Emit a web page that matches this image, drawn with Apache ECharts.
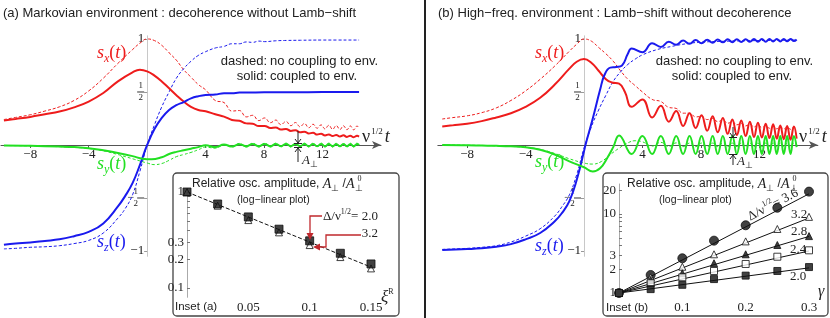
<!DOCTYPE html>
<html><head><meta charset="utf-8">
<script src="https://cdn.jsdelivr.net/npm/echarts@6/dist/echarts.min.js"></script>
<style>html,body{margin:0;padding:0;background:#fff}#c{width:830px;height:318px}</style>
</head><body><div id="c"></div>
<script>
// ---------- DATA ----------
const xTickValues = [-8, -4, 4, 8, 12];
const yTickValues = [-1, -0.5, 0.5, 1];

// Panel (a): Markovian environment  [t, s]
const a_sx_solid = [[-9.8,0.23],[-9,0.245],[-8,0.265],[-7,0.29],[-6,0.315],[-5,0.355],[-4,0.41],[-3,0.49],[-2,0.6],[-1,0.685],[-0.5,0.71],[0,0.695],[0.5,0.655],[1,0.6],[1.5,0.535],[2,0.47],[2.5,0.41],[3,0.36],[3.5,0.33],[4.0,0.318],[4.66,0.29],[5.26,0.268],[5.8,0.236],[6.31,0.228],[6.78,0.204],[7.22,0.2],[7.64,0.178],[8.04,0.18],[8.43,0.161],[8.8,0.165],[9.15,0.146],[9.5,0.152],[9.83,0.133],[10.15,0.139],[10.46,0.12],[10.76,0.126],[11.06,0.108],[11.35,0.116],[11.63,0.098],[11.9,0.106],[12.17,0.09],[12.43,0.1],[12.69,0.084],[12.94,0.095],[13.19,0.08],[13.43,0.091],[13.67,0.076],[13.9,0.088],[14.13,0.074],[14.36,0.086],[14.5,0.08]];
const a_sx_dashed = [[-9.8,0.24],[-9,0.26],[-8,0.285],[-7,0.32],[-6,0.36],[-5,0.42],[-4,0.51],[-3,0.63],[-2,0.77],[-1,0.9],[-0.5,0.96],[0,1.0],[0.5,0.985],[1,0.94],[1.5,0.87],[2,0.8],[2.5,0.71],[3,0.64],[3.5,0.57],[4.0,0.52],[4.66,0.42],[5.26,0.4],[5.8,0.32],[6.31,0.325],[6.78,0.265],[7.22,0.28],[7.64,0.23],[8.04,0.255],[8.43,0.21],[8.8,0.235],[9.15,0.192],[9.5,0.222],[9.83,0.182],[10.15,0.212],[10.46,0.172],[10.76,0.203],[11.06,0.163],[11.35,0.196],[11.63,0.158],[11.9,0.19],[12.17,0.152],[12.43,0.186],[12.69,0.148],[12.94,0.183],[13.19,0.146],[13.43,0.181],[13.67,0.144],[13.9,0.18],[14.13,0.143],[14.36,0.179],[14.5,0.16]];
const a_sz_solid = [[-9.8,-0.94],[-9,-0.93],[-8,-0.92],[-7,-0.905],[-6,-0.89],[-5,-0.86],[-4,-0.82],[-3,-0.74],[-2,-0.58],[-1.5,-0.48],[-1,-0.36],[-0.5,-0.19],[0,0],[0.5,0.15],[1,0.255],[1.5,0.33],[2,0.375],[2.5,0.405],[3,0.44],[3.5,0.46],[4,0.472],[4.66,0.476],[5.26,0.488],[5.8,0.488],[6.31,0.494],[7,0.495],[8,0.497],[10,0.498],[12,0.499],[14.5,0.5]];
const a_sz_dashed = [[-9.8,-0.98],[-9,-0.975],[-8,-0.965],[-7,-0.96],[-6,-0.95],[-5,-0.93],[-4,-0.9],[-3,-0.83],[-2,-0.69],[-1.5,-0.6],[-1,-0.47],[-0.5,-0.25],[0,0],[0.5,0.19],[1,0.36],[1.5,0.5],[2,0.63],[2.5,0.72],[3,0.79],[3.5,0.845],[4,0.88],[4.66,0.915],[5.26,0.93],[5.8,0.955],[6.31,0.955],[6.78,0.972],[7.22,0.968],[7.64,0.98],[8.04,0.975],[8.8,0.983],[9.5,0.986],[10.5,0.988],[12,0.99],[14.5,0.99]];
const a_sy_solid = [[-9.8,-0.005],[-8,-0.008],[-6,-0.015],[-5,-0.02],[-4,-0.03],[-3,-0.05],[-2,-0.075],[-1,-0.105],[-0.3,-0.13],[0.3,-0.135],[1,-0.115],[1.5,-0.085],[2,-0.065],[2.5,-0.05],[3,-0.035],[3.5,-0.02],[4.0,-0.003],[4.66,-0.02],[5.26,0.005],[5.8,-0.015],[6.31,0.008],[6.78,-0.012],[7.22,0.01],[7.64,-0.012],[8.04,0.01],[8.43,-0.012],[8.8,0.01],[9.15,-0.012],[9.5,0.01],[9.83,-0.012],[10.15,0.01],[10.46,-0.012],[10.76,0.01],[11.06,-0.012],[11.35,0.01],[11.63,-0.012],[11.9,0.01],[12.17,-0.012],[12.43,0.01],[12.69,-0.012],[12.94,0.01],[13.19,-0.012],[13.43,0.01],[13.67,-0.012],[13.9,0.01],[14.13,-0.012],[14.36,0.01],[14.5,0]];
const a_sy_dashed = [[-9.8,-0.005],[-8,-0.008],[-6,-0.016],[-5,-0.022],[-4,-0.033],[-3,-0.055],[-2,-0.09],[-1,-0.13],[0,-0.17],[0.5,-0.185],[1,-0.175],[1.5,-0.145],[2,-0.11],[2.5,-0.09],[3,-0.07],[3.5,-0.045],[4.0,-0.02],[4.66,-0.03],[5.26,0.0],[5.8,-0.02],[6.31,0.015],[6.78,-0.02],[7.22,0.018],[7.64,-0.02],[8.04,0.018],[8.43,-0.02],[8.8,0.018],[9.15,-0.02],[9.5,0.018],[9.83,-0.02],[10.15,0.018],[10.46,-0.02],[10.76,0.018],[11.06,-0.02],[11.35,0.018],[11.63,-0.02],[11.9,0.018],[12.17,-0.02],[12.43,0.018],[12.69,-0.02],[12.94,0.018],[13.19,-0.02],[13.43,0.018],[13.67,-0.02],[13.9,0.018],[14.13,-0.02],[14.36,0.018],[14.5,0]];

// Panel (b): high-frequency environment  [t, s]
const b_sx_solid = [[-9.7,0.175],[-9,0.185],[-8,0.2],[-7,0.225],[-6,0.26],[-5,0.3],[-4,0.36],[-3,0.445],[-2,0.57],[-1,0.72],[-0.5,0.785],[0,0.81],[0.5,0.775],[1,0.7],[1.5,0.62],[1.9,0.59],[2.4,0.578],[2.8,0.5],[3.26,0.36],[4.0,0.43],[4.66,0.26],[5.26,0.37],[5.8,0.22],[6.31,0.32],[6.78,0.18],[7.22,0.3],[7.64,0.16],[8.04,0.28],[8.43,0.135],[8.8,0.27],[9.15,0.12],[9.5,0.255],[9.83,0.105],[10.15,0.24],[10.46,0.095],[10.76,0.23],[11.06,0.085],[11.35,0.22],[11.63,0.075],[11.9,0.21],[12.17,0.07],[12.43,0.2],[12.69,0.065],[12.94,0.195],[13.19,0.06],[13.43,0.185],[13.67,0.055],[13.9,0.18],[14.13,0.05],[14.36,0.175],[14.55,0.06]];
const b_sx_dashed = [[-9.7,0.245],[-9,0.258],[-8,0.275],[-7,0.305],[-6,0.35],[-5,0.42],[-4,0.51],[-3,0.62],[-2,0.745],[-1,0.885],[-0.5,0.95],[0,1.0],[0.5,0.98],[1,0.92],[1.5,0.86],[2,0.79],[2.5,0.7],[3,0.62],[3.5,0.56],[4.0,0.5],[4.66,0.43],[5.26,0.41],[5.8,0.355],[6.31,0.345],[6.78,0.3],[7.22,0.3],[7.64,0.265],[8.04,0.27],[8.43,0.24],[8.8,0.25],[9.15,0.22],[9.5,0.235],[9.83,0.205],[10.15,0.22],[10.46,0.19],[10.76,0.205],[11.06,0.18],[11.35,0.195],[11.63,0.17],[11.9,0.188],[12.17,0.163],[12.43,0.182],[12.69,0.158],[12.94,0.177],[13.19,0.153],[13.43,0.173],[13.67,0.15],[13.9,0.17],[14.13,0.148],[14.36,0.168],[14.55,0.155]];
const b_sz_solid = [[-9.7,-0.99],[-8,-0.982],[-7,-0.975],[-6,-0.96],[-5,-0.935],[-4,-0.89],[-3,-0.83],[-2,-0.72],[-1.5,-0.64],[-1,-0.53],[-0.5,-0.33],[0,-0.06],[0.1,0],[0.6,0.25],[1.1,0.52],[1.4,0.66],[1.8,0.73],[2.2,0.735],[2.6,0.75],[3.0,0.86],[3.26,0.91],[4.0,0.875],[4.66,0.96],[5.26,0.925],[5.8,0.975],[6.31,0.945],[6.78,0.985],[7.22,0.955],[7.64,0.99],[8.04,0.96],[8.43,0.993],[8.8,0.965],[9.15,0.995],[9.5,0.968],[9.83,0.997],[10.15,0.97],[10.46,0.998],[10.76,0.972],[11.06,0.998],[11.35,0.973],[11.63,0.999],[11.9,0.974],[12.17,0.999],[12.43,0.975],[12.69,1.0],[12.94,0.976],[13.19,1.0],[13.43,0.977],[13.67,1.0],[13.9,0.978],[14.13,1.0],[14.36,0.98],[14.55,0.995]];
const b_sz_dashed = [[-9.7,-0.985],[-8,-0.975],[-7,-0.965],[-6,-0.95],[-5,-0.915],[-4,-0.86],[-3,-0.79],[-2,-0.67],[-1.5,-0.58],[-1,-0.47],[-0.5,-0.28],[0,-0.03],[0.5,0.17],[1,0.33],[1.5,0.47],[2,0.6],[2.5,0.69],[3,0.76],[3.5,0.81],[4,0.85],[5,0.9],[6,0.93],[7,0.955],[8,0.97],[10,0.98],[12,0.985],[14.55,0.99]];
const b_sy_solid = [[-9.7,0],[-8,-0.002],[-7,-0.005],[-6,-0.008],[-5,-0.013],[-4,-0.022],[-3,-0.045],[-2,-0.09],[-1,-0.155],[0,-0.21],[0.6,-0.25],[1.1,-0.22],[1.6,-0.12],[2.0,-0.02],[2.4,0.09],[3.26,-0.085],[4.0,0.085],[4.66,-0.085],[5.26,0.085],[5.8,-0.085],[6.31,0.085],[6.78,-0.085],[7.22,0.085],[7.64,-0.085],[8.04,0.085],[8.43,-0.085],[8.8,0.085],[9.15,-0.085],[9.5,0.085],[9.83,-0.085],[10.15,0.085],[10.46,-0.085],[10.76,0.085],[11.06,-0.085],[11.35,0.085],[11.63,-0.085],[11.9,0.085],[12.17,-0.085],[12.43,0.085],[12.69,-0.085],[12.94,0.085],[13.19,-0.085],[13.43,0.085],[13.67,-0.085],[13.9,0.085],[14.13,-0.085],[14.36,0.085],[14.55,-0.02]];
const b_sy_dashed = [[-9.7,0],[-8,-0.002],[-6,-0.008],[-4,-0.022],[-3,-0.042],[-2,-0.08],[-1,-0.13],[0,-0.17],[0.6,-0.18],[1.2,-0.155],[1.8,-0.09],[2.4,-0.03],[3.0,0.02],[3.5,0.04],[4.0,0.03],[4.66,-0.01],[5.26,0.025],[5.8,-0.015],[6.31,0.02],[6.78,-0.016],[7.22,0.018],[7.64,-0.016],[8.04,0.018],[8.43,-0.016],[8.8,0.018],[9.15,-0.016],[9.5,0.018],[9.83,-0.016],[10.15,0.018],[10.46,-0.016],[10.76,0.018],[11.06,-0.016],[11.35,0.018],[11.63,-0.016],[11.9,0.018],[12.17,-0.016],[12.43,0.018],[12.69,-0.016],[12.94,0.018],[13.19,-0.016],[13.43,0.018],[13.67,-0.016],[13.9,0.018],[14.13,-0.016],[14.36,0.018],[14.55,0]];

// Inset (a): relative amplitude vs xi (log-linear)
const insetA_x = [0, 0.025, 0.05, 0.075, 0.1, 0.125, 0.15];
const insetA_delta20 = [1.0, 0.75, 0.55, 0.41, 0.31, 0.23, 0.178];
const insetA_delta32 = [1.0, 0.72, 0.51, 0.38, 0.28, 0.21, 0.16];
const insetA_fit = [[0, 1.0], [0.15, 0.165]];
const insetA_yTicks = [0.1, 0.2, 0.3, 1];
const insetA_xTicks = [0.05, 0.1, 0.15];

// Inset (b): relative amplitude vs gamma (log-linear)
const insetB_x = [0, 0.05, 0.1, 0.15, 0.2, 0.25, 0.3];
const insetB_d36 = [1, 1.69, 2.75, 4.6, 7.2, 12.0, 19.2];
const insetB_d32 = [1, 1.58, 2.15, 3.09, 4.5, 6.46, 9.2];
const insetB_d28 = [1, 1.46, 1.78, 2.38, 3.09, 4.05, 5.25];
const insetB_d24 = [1, 1.33, 1.58, 1.9, 2.33, 2.88, 3.47];
const insetB_d20 = [1, 1.12, 1.27, 1.5, 1.66, 1.9, 2.13];
const insetB_fitEnd = [18.0, 8.9, 5.2, 3.4, 2.08];
const insetB_yTicks = [1, 2, 3, 10, 20];
const insetB_xTicks = [0.1, 0.2, 0.3];

// ---------- CHART ----------
const SANS = '"Liberation Sans", Arial, sans-serif';
const SERIF = '"Liberation Serif", "Times New Roman", serif';
const RED = '#ee1c1c', BLUE = '#1a1aee', GREEN = '#22e022', DARKRED = '#c0282d';

const chart = echarts.init(document.getElementById('c'), null, {renderer: 'canvas'});

function fmtNum(v) { const s = String(+(+v).toPrecision(3)); return s.replace('-', '\u2212'); }

// main grid geometry (x range [-10,16], y range [-1.05,1.03])
const MAIN_W = 380, MAIN_H = 220.5, MAIN_TOP = 35.8;
const X_MIN = -10, X_MAX = 16, Y_MIN = -1.05, Y_MAX = 1.03;
const X_OFF = -MAIN_W * (0 - X_MIN) / (X_MAX - X_MIN);   // move y axis onto t = 0
const Y_OFF = -MAIN_H * (0 - Y_MIN) / (Y_MAX - Y_MIN);   // move x axis onto s = 0

function mainX(gi) {
  return {type: 'value', gridIndex: gi, min: X_MIN, max: X_MAX, position: 'bottom', offset: Y_OFF, z: 3,
    axisLine: {onZero: false, lineStyle: {color: '#555', width: 1}, symbol: ['none', 'arrow'], symbolSize: [6, 9]},
    axisTick: {show: true, customValues: xTickValues, length: 3, lineStyle: {color: '#555'}},
    axisLabel: {customValues: xTickValues, formatter: fmtNum, fontFamily: SERIF, fontSize: 13, color: '#222', margin: 3},
    splitLine: {show: false}};
}
function mainY(gi) {
  return {type: 'value', gridIndex: gi, min: Y_MIN, max: Y_MAX, position: 'left', offset: X_OFF, z: 3,
    axisLine: {onZero: false, lineStyle: {color: '#c8c8c8', width: 1}},
    axisTick: {show: true, customValues: yTickValues, length: 3, lineStyle: {color: '#999'}},
    axisLabel: {customValues: yTickValues, fontFamily: SERIF, fontSize: 13, color: '#222', margin: 3,
      formatter: function (v) {
        if (v === 1) return '1';
        if (v === -1) return '\u22121';
        if (v === 0.5) return '{n|1}\n{l| }\n{d|2}';
        return '{n|1}\n{m|\u2212}{l| }\n{d|2}';
      },
      rich: {
        n: {fontFamily: SERIF, fontSize: 9, lineHeight: 9, width: 7, align: 'center'},
        d: {fontFamily: SERIF, fontSize: 9, lineHeight: 9, width: 7, align: 'center'},
        l: {fontSize: 1, lineHeight: 3, width: 7, height: 1, backgroundColor: '#333'},
        m: {fontFamily: SERIF, fontSize: 12, lineHeight: 3, padding: [0, 3, 0, 0]}
      }},
    splitLine: {show: false}};
}

function curve(data, gi, color, dashed, z) {
  return {type: 'line', xAxisIndex: gi, yAxisIndex: gi, data: data, showSymbol: false, symbol: 'none',
    smooth: 0.45, silent: true, z: z || 3,
    lineStyle: {color: color, width: dashed ? 1 : 2, type: dashed ? [3, 2] : 'solid'}};
}
const zip = (xs, ys) => xs.map((x, i) => [x, ys[i]]);

function scatter(gi, data, symbol, size, filled) {
  return {type: 'scatter', xAxisIndex: gi, yAxisIndex: gi, data: data, symbol: symbol, symbolSize: size, silent: true, z: 6,
    itemStyle: {color: filled ? '#111' : '#fff', borderColor: '#111', borderWidth: 1}};
}
function fitLine(gi, data, dashed) {
  return {type: 'line', xAxisIndex: gi, yAxisIndex: gi, data: data, showSymbol: false, symbol: 'none', silent: true, z: 5,
    lineStyle: {color: '#111', width: 1, type: dashed ? [4, 2] : 'solid'}};
}

const series = [
  curve(a_sx_dashed, 0, RED, true), curve(a_sz_dashed, 0, BLUE, true), curve(a_sy_dashed, 0, GREEN, true),
  curve(a_sx_solid, 0, RED, false, 4), curve(a_sz_solid, 0, BLUE, false, 4), curve(a_sy_solid, 0, GREEN, false, 4),
  curve(b_sx_dashed, 1, RED, true), curve(b_sz_dashed, 1, BLUE, true), curve(b_sy_dashed, 1, GREEN, true),
  curve(b_sx_solid, 1, RED, false, 4), curve(b_sz_solid, 1, BLUE, false, 4), curve(b_sy_solid, 1, GREEN, false, 4),
  fitLine(2, insetA_fit, true),
  scatter(2, zip(insetA_x, insetA_delta32), 'triangle', 7, false),
  scatter(2, zip(insetA_x, insetA_delta20), 'rect', 8, true)
];
[insetB_d36, insetB_d32, insetB_d28, insetB_d24, insetB_d20].forEach((arr, i) => {
  series.push(fitLine(3, [[0, 1], [0.3, insetB_fitEnd[i]]], false));
});
series.push(scatter(3, zip(insetB_x, insetB_d36), 'circle', 9, true));
series.push(scatter(3, zip(insetB_x, insetB_d32), 'triangle', 7, false));
series.push(scatter(3, zip(insetB_x, insetB_d28), 'triangle', 7, true));
series.push(scatter(3, zip(insetB_x, insetB_d24), 'rect', 7, false));
series.push(scatter(3, zip(insetB_x, insetB_d20), 'rect', 7, true));

function insetX(gi, max, ticks) {
  return {type: 'value', gridIndex: gi, min: 0, max: max, z: 3,
    axisLine: {show: false}, axisTick: {show: false},
    axisLabel: {customValues: ticks, formatter: fmtNum, fontFamily: SERIF, fontSize: 13, color: '#222', margin: 4,
      showMaxLabel: true, showMinLabel: true, hideOverlap: false},
    splitLine: {show: false}};
}
function insetY(gi, min, max, ticks, minor) {
  return {type: 'log', logBase: 10, gridIndex: gi, min: min, max: max, z: 3,
    axisLine: {show: true, onZero: false, lineStyle: {color: '#aaa'}},
    axisTick: {show: true, inside: true, customValues: minor, length: 3, lineStyle: {color: '#777'}},
    axisLabel: {customValues: ticks, formatter: fmtNum, fontFamily: SERIF, fontSize: 13, color: '#222', margin: 3,
      showMaxLabel: true, showMinLabel: true, hideOverlap: false},
    splitLine: {show: false}};
}

function T(x, y, text, font, align, extra) {
  return Object.assign({type: 'text', x: x, y: y, z: 100, silent: true,
    style: {text: text, font: font, fill: '#222', align: align || 'left', textAlign: align || 'left',
      verticalAlign: 'middle', textVerticalAlign: 'middle'}}, extra || {});
}
function richT(x, y, text, rich, align, extra) {
  const e = T(x, y, text, '13px ' + SANS, align, extra);
  e.style.rich = rich;
  return e;
}
function pl(points, color, w) {
  return {type: 'polyline', z: 100, silent: true, shape: {points: points}, style: {stroke: color, lineWidth: w || 1, fill: null}};
}
function pg(points, color) {
  return {type: 'polygon', z: 100, silent: true, shape: {points: points}, style: {fill: color}};
}

function sLabel(x, y, sub, color) {
  return richT(x, y, '{s|s}{b|' + sub + '}{p|(}{s|t}{p|)}', {
    s: {fontFamily: SERIF, fontStyle: 'italic', fontSize: 18, fill: color, lineHeight: 24, verticalAlign: 'middle'},
    p: {fontFamily: SERIF, fontSize: 18, fill: color, lineHeight: 24, verticalAlign: 'middle'},
    b: {fontFamily: SERIF, fontStyle: 'italic', fontSize: 12, fill: color, lineHeight: 24, verticalAlign: 'bottom'}
  });
}
function nuLabel(x, y) {
  return richT(x, y, '{n|\u03bd}{u|1/2}{t|t}', {
    n: {fontFamily: SERIF, fontSize: 18, fill: '#222', lineHeight: 20, verticalAlign: 'middle'},
    u: {fontFamily: SERIF, fontSize: 9, fill: '#222', lineHeight: 20, verticalAlign: 'top', padding: [0, 2, 0, 1]},
    t: {fontFamily: SERIF, fontStyle: 'italic', fontSize: 18, fill: '#222', lineHeight: 20, verticalAlign: 'middle'}
  });
}
function aperp(x, y) {
  return richT(x, y, '{a|A}{b|\u22a5}', {
    a: {fontFamily: SERIF, fontStyle: 'italic', fontSize: 13, fill: '#222', lineHeight: 16, verticalAlign: 'middle'},
    b: {fontFamily: SERIF, fontSize: 9, fill: '#222', lineHeight: 16, verticalAlign: 'bottom'}
  });
}
function insetTitle(x, y) {
  return richT(x, y, '{r|Relative osc. amplitude, }{a|A}{b|\u22a5}{r| /}{a|A}{b|\u22a5}{c|0}', {
    r: {fontFamily: SANS, fontSize: 12, fill: '#222', lineHeight: 18, verticalAlign: 'middle'},
    a: {fontFamily: SERIF, fontStyle: 'italic', fontSize: 14, fill: '#222', lineHeight: 18, verticalAlign: 'middle'},
    b: {fontFamily: SERIF, fontSize: 9, fill: '#222', lineHeight: 18, verticalAlign: 'bottom'},
    c: {fontFamily: SERIF, fontSize: 8, fill: '#222', lineHeight: 18, verticalAlign: 'top', padding: [0, 0, 0, -5]}
  });
}
const deltaRich = {
  d: {fontFamily: SERIF, fontSize: 13, fill: '#222', lineHeight: 18, verticalAlign: 'middle'},
  u: {fontFamily: SERIF, fontSize: 8, fill: '#222', lineHeight: 18, verticalAlign: 'top'}
};

function aArrows(x, yTop, yTip1, yTip2, yBot) {
  return [
    pl([[x, yTop], [x, yTip1]], '#222', 1), pl([[x - 3, yTip1 - 4], [x, yTip1], [x + 3, yTip1 - 4]], '#222', 1),
    pl([[x - 4, yTip1 + 0.5], [x + 4, yTip1 + 0.5]], '#222', 1),
    pl([[x, yBot], [x, yTip2]], '#222', 1), pl([[x - 3, yTip2 + 4], [x, yTip2], [x + 3, yTip2 + 4]], '#222', 1),
    pl([[x - 4, yTip2 - 0.5], [x + 4, yTip2 - 0.5]], '#222', 1)
  ];
}

const graphic = [
  {type: 'rect', z: -10, silent: true, shape: {x: 173, y: 173, width: 226, height: 143, r: 4}, style: {fill: '#fff', stroke: '#444', lineWidth: 1.3}},
  {type: 'rect', z: -10, silent: true, shape: {x: 603, y: 173, width: 225, height: 143, r: 4}, style: {fill: '#fff', stroke: '#444', lineWidth: 1.3}},
  {type: 'rect', z: 100, silent: true, shape: {x: 424, y: 0, width: 2, height: 318}, style: {fill: '#222'}},
  T(3, 13, '(a) Markovian environment : decoherence without Lamb\u2212shift', '13px ' + SANS),
  T(438, 13, '(b) High\u2212freq. environment : Lamb\u2212shift without decoherence', '13px ' + SANS),
  T(267, 61, 'dashed:', '13px ' + SANS, 'right'), T(270, 61, 'no coupling to env.', '13px ' + SANS),
  T(267, 76, 'solid:', '13px ' + SANS, 'right'), T(270, 76, 'coupled to env.', '13px ' + SANS),
  T(702, 61, 'dashed:', '13px ' + SANS, 'right'), T(705, 61, 'no coupling to env.', '13px ' + SANS),
  T(702, 76, 'solid:', '13px ' + SANS, 'right'), T(705, 76, 'coupled to env.', '13px ' + SANS),
  sLabel(97, 53, 'x', RED), sLabel(97, 164, 'y', GREEN), sLabel(97, 242, 'z', BLUE),
  sLabel(535, 53, 'x', RED), sLabel(535, 162, 'y', GREEN), sLabel(535, 246, 'z', BLUE),
  nuLabel(362, 137), nuLabel(799, 137),
  ...aArrows(298, 131, 143, 148, 162), aperp(302, 161),
  ...aArrows(733, 127, 137, 155, 165), aperp(737, 162),
  // inset (a) texts
  insetTitle(192, 184), T(237, 200, '(log\u2212linear plot)', '10.5px ' + SANS),
  T(175, 307, 'Inset (a)', '11.5px ' + SANS),
  richT(381, 298, '{x|\u03be}{u|R}', {x: {fontFamily: SERIF, fontStyle: 'italic', fontSize: 17, fill: '#222', lineHeight: 20, verticalAlign: 'middle'}, u: {fontFamily: SERIF, fontSize: 8, fill: '#222', lineHeight: 20, verticalAlign: 'top'}}),
  richT(323, 217, '{d|\u0394/\u03bd}{u|1/2}{d|= 2.0}', deltaRich),
  T(378, 234, '3.2', '13px ' + SERIF, 'right'),
  pl([[322, 216], [310, 216], [310, 236]], DARKRED, 1.3), pg([[306.5, 233], [313.5, 233], [310, 240]], DARKRED),
  pl([[361, 235], [326, 235], [326, 247], [319, 247]], DARKRED, 1.3), pg([[320, 243.5], [320, 250.5], [313, 247]], DARKRED),
  // inset (b) texts
  insetTitle(627, 184), T(659, 200, '(log\u2212linear plot)', '10.5px ' + SANS),
  T(606, 308, 'Inset (b)', '11.5px ' + SANS),
  T(818, 292, '\u03b3', 'italic 16px ' + SERIF),
  richT(773, 205, '{d|\u0394/\u03bd}{u|1/2}{d|= 3.6}', deltaRich, 'center', {rotation: 0.48}),
  T(799, 215, '3.2', '13px ' + SERIF, 'center'),
  T(799, 232, '2.8', '13px ' + SERIF, 'center'),
  T(798, 250, '2.4', '13px ' + SERIF, 'center'),
  T(798, 277, '2.0', '13px ' + SERIF, 'center')
];

// inset (b) log axis: 1 at y=293, 79 px per decade
const B_MIN = 0.9, B_MAX = 24, B_DEC = 79, B_ONE = 293;
const B_TOP = B_ONE - Math.log10(B_MAX) * B_DEC;
const B_H = (Math.log10(B_MAX) - Math.log10(B_MIN)) * B_DEC;

const gridBase = {outerBoundsMode: 'none', containLabel: false};
chart.setOption({
  animation: false,
  backgroundColor: '#fff',
  grid: [
    Object.assign({left: 1, top: MAIN_TOP, width: MAIN_W, height: MAIN_H}, gridBase),
    Object.assign({left: 437.85, top: MAIN_TOP, width: MAIN_W, height: MAIN_H}, gridBase),
    Object.assign({left: 187, top: 188.8, width: 184, height: 108.5}, gridBase),
    Object.assign({left: 619, top: B_TOP, width: 190, height: B_H}, gridBase)
  ],
  xAxis: [mainX(0), mainX(1), insetX(2, 0.15, insetA_xTicks), insetX(3, 0.3, insetB_xTicks)],
  yAxis: [mainY(0), mainY(1),
    insetY(2, 0.08, 1.08, insetA_yTicks, [0.1, 0.2, 0.3, 0.4, 0.5, 0.6, 0.7, 0.8, 0.9, 1]),
    insetY(3, B_MIN, B_MAX, insetB_yTicks, [1, 2, 3, 4, 5, 6, 7, 8, 9, 10, 20])],
  series: series,
  graphic: graphic
});
</script></body></html>
